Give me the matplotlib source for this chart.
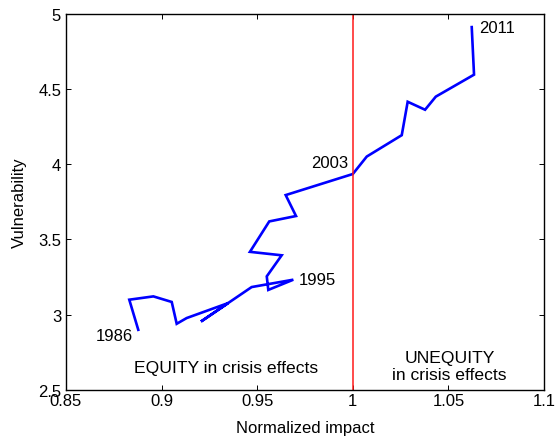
import matplotlib
matplotlib.use("Agg")
import matplotlib.pyplot as plt

plt.rcParams['font.family'] = ['Liberation Sans', 'DejaVu Sans']

impact = [0.8878, 0.8831, 0.8957, 0.9053, 0.9079, 0.9131, 0.9349, 0.9206, 0.9471,
          0.9689, 0.9558, 0.9550, 0.9628, 0.9462, 0.9563, 0.9703, 0.9649, 1.0000,
          1.0073, 1.0256, 1.0287, 1.0378, 1.0434, 1.0634, 1.0622]
vulnerability = [2.90, 3.10, 3.122, 3.085, 2.94, 2.978, 3.078, 2.955, 3.184,
                 3.233, 3.165, 3.255, 3.395, 3.418, 3.62, 3.656, 3.795, 3.935,
                 4.051, 4.193, 4.415, 4.362, 4.449, 4.595, 4.911]
year_labels = ["1986", "1995", "2003", "2011"]
year_label_idx = [0, 9, 17, 24]

FS = 12
fig = plt.figure(figsize=(5.55, 4.39), dpi=100)
ax = fig.add_axes([0.1189, 0.1093, 0.8613, 0.8572])

ax.plot(impact, vulnerability, color=(0, 0, 1), lw=1.9, solid_joinstyle='miter')
ax.axvline(1.0, color=(1, 0.1, 0.1), lw=1.1)

ax.set_xlim(0.85, 1.1)
ax.set_ylim(2.5, 5)
ax.set_xticks([0.85, 0.9, 0.95, 1.0, 1.05, 1.1])
ax.set_xticklabels(["0.85", "0.9", "0.95", "1", "1.05", "1.1"])
ax.set_yticks([2.5, 3, 3.5, 4, 4.5, 5])
ax.set_yticklabels(["2.5", "3", "3.5", "4", "4.5", "5"])
ax.tick_params(direction='in', top=True, right=True, labelsize=FS, length=3.6, width=0.7)
ax.tick_params(axis='x', pad=2)
ax.tick_params(axis='y', pad=3.5)
for s in ax.spines.values():
    s.set_linewidth(1.0)

ax.set_xlabel("Normalized impact", fontsize=FS, labelpad=9)
ax.set_ylabel("Vulnerability", fontsize=FS, labelpad=8)

offsets = {"1986": (-4, -4, 'right'), "1995": (4, 0, 'left'),
           "2003": (-3, 8, 'right'), "2011": (5, 0, 'left')}
for lab, i in zip(year_labels, year_label_idx):
    dx, dy, ha = offsets[lab]
    ax.annotate(lab, (impact[i], vulnerability[i]), xytext=(dx, dy),
                textcoords='offset points', ha=ha, va='center', fontsize=FS)

ax.text(0.9335, 2.65, "EQUITY in crisis effects", ha='center', va='center', fontsize=12.6)
ax.text(1.0505, 2.658, "UNEQUITY\nin crisis effects", ha='center', va='center',
        fontsize=12.6, linespacing=1.2)

fig.savefig("out.png", dpi=100)
